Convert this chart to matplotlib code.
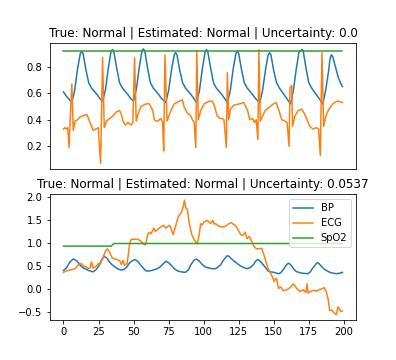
import numpy as np
import matplotlib.pyplot as plt

# sample 1 (top panel)
bp1_x = [0, 2, 4, 6, 8, 10, 12, 13, 14, 16, 18, 20, 22, 24, 26, 28,
         30, 32, 34, 35, 36, 38, 40, 42, 44, 46, 48, 50,
         52, 54, 56, 57, 58, 60, 62, 64, 66, 68, 70, 73,
         75, 77, 79, 80, 81, 83, 85, 87, 89, 91, 93, 95,
         97, 99, 101, 102, 103, 105, 107, 109, 111, 113, 115, 117,
         119, 121, 123, 124, 125, 127, 129, 131, 133, 135, 137, 140,
         142, 144, 146, 147, 148, 150, 152, 154, 156, 158, 160, 162,
         164, 166, 168, 170, 171, 173, 175, 177, 179, 181, 183, 185,
         187, 189, 190, 191, 192, 194, 196, 198, 199]
bp1_y = [0.61, 0.58, 0.555, 0.53, 0.62, 0.78, 0.90, 0.915, 0.90, 0.78, 0.68, 0.64, 0.615, 0.59, 0.56, 0.54,
         0.63, 0.79, 0.92, 0.93, 0.91, 0.79, 0.68, 0.64, 0.615, 0.59, 0.56, 0.54,
         0.63, 0.79, 0.92, 0.935, 0.92, 0.79, 0.68, 0.64, 0.615, 0.59, 0.56, 0.53,
         0.62, 0.77, 0.89, 0.907, 0.89, 0.77, 0.68, 0.64, 0.615, 0.59, 0.56, 0.53,
         0.62, 0.78, 0.91, 0.93, 0.91, 0.79, 0.68, 0.64, 0.615, 0.59, 0.56, 0.53,
         0.62, 0.78, 0.90, 0.92, 0.90, 0.78, 0.68, 0.64, 0.615, 0.59, 0.56, 0.53,
         0.62, 0.77, 0.89, 0.907, 0.89, 0.77, 0.68, 0.64, 0.61, 0.58, 0.55, 0.52,
         0.62, 0.78, 0.91, 0.93, 0.92, 0.79, 0.68, 0.64, 0.61, 0.58, 0.55, 0.52,
         0.62, 0.76, 0.85, 0.89, 0.88, 0.80, 0.72, 0.67, 0.65]

ecg1_x = [0, 1, 2, 3, 4, 5, 6, 7, 8.3, 10, 11.8, 14, 16.5, 17.5, 18.9, 21.2, 23, 24.8, 26.5, 27.9, 29.1,
          30.7, 33, 35.4, 37.8, 40.1, 41.3, 42.5, 44.1, 46, 47, 48.4, 49.5, 50.7, 51.9, 53.1, 55.4, 57, 59,
          61.3, 63.7, 64.8, 66, 67.2, 69.6, 70.7, 71.5, 72.4, 73.9, 76.7, 79, 82.6, 84.9, 86, 88.4, 89.5, 90.8,
          92, 93.2, 94.4, 95.1, 96.2, 97.9, 100.3, 103.8, 106.2, 107.8, 109.6, 111.5, 113.2, 114.5, 116.2, 116.9,
          117.9, 119.1, 121.5, 125.4, 128.5, 131.4, 132.8, 135, 136.2, 137.5, 138.7, 139.4, 140.4, 143.9, 146.2,
          149.8, 151.7, 153.4, 155.7, 158, 159.5, 160.9, 161.6, 162.8, 163.4, 165.1, 167.5, 169.9, 172.2, 173.8,
          175.7, 178, 180.4, 182, 183.2, 184.4, 185.6, 187.5, 189.9, 192.2, 195, 196.4, 197.6, 199]
ecg1_y = [0.33, 0.34, 0.33, 0.34, 0.19, 0.45, 0.67, 0.32, 0.39, 0.40, 0.42, 0.43, 0.44, 0.42, 0.38, 0.32, 0.33, 0.34, 0.07, 0.87, 0.34,
          0.39, 0.41, 0.43, 0.46, 0.47, 0.44, 0.39, 0.36, 0.38, 0.37, 0.36, 0.38, 0.87, 0.39, 0.44, 0.50, 0.51, 0.52,
          0.52, 0.47, 0.40, 0.39, 0.39, 0.41, 0.38, 0.165, 0.89, 0.39, 0.47, 0.52, 0.54, 0.55, 0.50, 0.45, 0.44, 0.43,
          0.40, 0.38, 0.19, 0.92, 0.40, 0.47, 0.52, 0.54, 0.54, 0.50, 0.43, 0.41, 0.41, 0.40, 0.19, 0.756,
          0.40, 0.48, 0.51, 0.52, 0.53, 0.47, 0.40, 0.41, 0.38, 0.40, 0.25, 0.93, 0.39, 0.47, 0.49,
          0.52, 0.53, 0.48, 0.40, 0.39, 0.38, 0.20, 0.64, 0.66, 0.35, 0.43, 0.47, 0.48, 0.44, 0.40,
          0.35, 0.33, 0.34, 0.33, 0.13, 0.91, 0.35, 0.44, 0.49, 0.52, 0.54, 0.54, 0.535, 0.53]

spo2_1_x = [0, 199]
spo2_1_y = [0.92, 0.92]

# sample 2 (bottom panel)
bp2_x = [0, 2, 3.5, 5, 7, 9, 10.6, 12, 14, 16, 18, 21, 23, 25, 27, 29, 31, 32.5, 34.5, 36.6, 39, 41.3,
         43, 45, 47, 49, 51, 53, 55, 57, 59, 61, 63, 65, 67, 69, 71, 73, 75, 77, 79, 81.4, 84, 87,
         89, 91, 93, 95, 97, 99, 101, 103, 106, 108.5, 110, 112, 114, 116.7, 118, 120, 121.5, 124, 126.2,
         129, 131, 133, 135.6, 137, 138.5, 140, 141.5, 144, 146, 148, 150, 153.4, 155, 157, 159, 160.4,
         162, 164, 166, 168.7, 171, 174.5, 176, 178, 180.9, 182, 184, 186, 188.7, 191, 194.6, 197, 199]
bp2_y = [0.41, 0.46, 0.54, 0.61, 0.66, 0.63, 0.58, 0.52, 0.47, 0.44, 0.41, 0.38, 0.42, 0.50, 0.63, 0.72, 0.68, 0.61, 0.54, 0.49, 0.44, 0.42,
         0.43, 0.48, 0.57, 0.62, 0.65, 0.61, 0.53, 0.46, 0.40, 0.40, 0.41, 0.43, 0.45, 0.49, 0.55, 0.61, 0.58, 0.52, 0.45, 0.40, 0.38, 0.37,
         0.42, 0.54, 0.63, 0.66, 0.61, 0.54, 0.49, 0.47, 0.45, 0.45, 0.48, 0.53, 0.63, 0.73, 0.72, 0.66, 0.62, 0.56, 0.51,
         0.47, 0.45, 0.47, 0.54, 0.61, 0.65, 0.62, 0.57, 0.48, 0.40, 0.38, 0.37, 0.34, 0.36, 0.44, 0.53, 0.57,
         0.54, 0.45, 0.39, 0.36, 0.35, 0.34, 0.38, 0.47, 0.58, 0.57, 0.50, 0.44, 0.39, 0.36, 0.34, 0.35, 0.37]

ecg2_x = [0, 2, 4.7, 6, 8.3, 10.8, 12.5, 14.9, 16, 17.7, 19, 20, 21.2, 23.6, 24.8, 26, 28.3, 30, 31.4, 33, 34.7,
          36, 37.8, 40, 41.3, 42.5, 43.6, 45.5, 47.2, 48.4, 50, 53.1, 55, 57.8, 58.5, 60.1, 61.3, 62.5, 64.4,
          65.5, 67.2, 69.6, 71.5, 73, 74, 75.8, 77, 78.3, 80.2, 81.9, 83, 84.2, 85.5, 86.3, 87.3, 88.4, 89.7, 91.5,
          93.6, 95.5, 96.7, 97.9, 99, 100.3, 102.6, 104, 105, 106.6, 107.5, 108.5, 110, 112, 114.4, 116,
          118, 119.8, 121, 122.6, 124, 125, 126.4, 127.8, 129.7, 130.9, 132.5, 134.4, 135.6, 137, 138,
          140, 141.5, 143.2, 144.6, 146.2, 147.5, 148.6, 150.3, 151.4, 152.1, 153.4, 155, 156.9, 159.3,
          161.7, 164, 165, 166.4, 168.7, 171.1, 172.9, 173.8, 174.5, 176.8, 178.5, 180.4, 182.7, 184.5,
          185.9, 187.5, 188.7, 189.9, 191, 192.2, 193.4, 194.6, 195.8, 197, 197.6, 199]
ecg2_y = [0.37, 0.40, 0.42, 0.43, 0.45, 0.54, 0.565, 0.49, 0.50, 0.45, 0.47, 0.60, 0.46, 0.51, 0.56, 0.54, 0.69, 0.84, 0.88, 0.80, 0.69,
          0.67, 0.65, 0.63, 0.54, 0.63, 0.52, 0.57, 0.99, 1.09, 1.09, 1.09, 1.05, 0.97, 0.97, 1.19, 1.24, 1.21, 1.33,
          1.26, 1.30, 1.36, 1.39, 1.33, 1.36, 1.39, 1.30, 1.19, 1.40, 1.58, 1.62, 1.68, 1.80, 1.94, 1.77, 1.73, 1.44, 1.19,
          1.06, 0.99, 1.17, 1.43, 1.40, 1.47, 1.50, 1.46, 1.43, 1.50, 1.42, 1.43, 1.39, 1.36, 1.36, 1.38,
          1.43, 1.45, 1.42, 1.39, 1.33, 1.27, 1.19, 1.17, 1.24, 1.10, 1.15, 1.04, 0.95, 0.90, 0.88,
          0.89, 0.89, 0.73, 0.58, 0.44, 0.36, 0.30, 0.17, 0.24, 0.22, 0.02, 0.05, -0.03, -0.01,
          0.04, 0.12, 0.08, 0.02, -0.05, -0.01, -0.07, 0.12, -0.08, -0.04, -0.02, -0.04, 0.00, 0.01,
          0.04, -0.05, -0.20, -0.46, -0.45, -0.48, -0.52, -0.55, -0.38, -0.43, -0.48, -0.47]

spo2_2_x = [0, 34, 36, 199]
spo2_2_y = [0.94, 0.94, 0.997, 0.997]

titles = ['True: Normal | Estimated: Normal | Uncertainty: 0.0',
          'True: Normal | Estimated: Normal | Uncertainty: 0.0537']

fig, (ax1, ax2) = plt.subplots(2, 1, figsize=(5.5, 5), dpi=72)

ax1.plot(bp1_x, bp1_y, label='BP')
ax1.plot(ecg1_x, ecg1_y, label='ECG')
ax1.plot(spo2_1_x, spo2_1_y, label='SpO2')
ax1.set_title(titles[0])
ax1.set_xticks([])

ax2.plot(bp2_x, bp2_y, label='BP')
ax2.plot(ecg2_x, ecg2_y, label='ECG')
ax2.plot(spo2_2_x, spo2_2_y, label='SpO2')
ax2.set_title(titles[1])
ax2.legend(loc='upper right')

fig.savefig('out.png', dpi=72)
